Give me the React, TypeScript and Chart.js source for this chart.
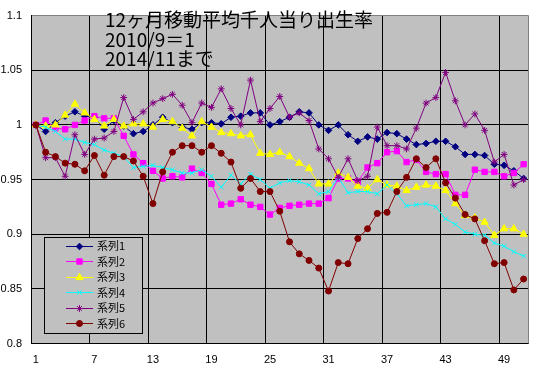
import React, { useEffect, useRef } from 'react';
import { Chart, registerables } from 'chart.js';
import { drawPoint } from 'chart.js/helpers';

Chart.register(...registerables);

const categories = ['1','2','3','4','5','6','7','8','9','10','11','12','13','14','15','16','17','18','19','20','21','22','23','24','25','26','27','28','29','30','31','32','33','34','35','36','37','38','39','40','41','42','43','44','45','46','47','48','49','50','51'];
const xTickLabels = ['1','7','13','19','25','31','37','43','49'];
const yTickValues = [0.8, 0.85, 0.9, 0.95, 1, 1.05, 1.1];
const yTickLabels = ['0.8', '0.85', '0.9', '0.95', '1', '1.05', '1.1'];
const seriesNames = ['系列1', '系列2', '系列3', '系列4', '系列5', '系列6'];
const titleLines = ['12ヶ月移動平均千人当り出生率', '2010/9＝1', '2014/11まで'];

const series1 = [1.000, 0.994, 1.002, 1.008, 1.012, 1.008, 1.007, 0.996, 1.004, 0.999, 0.992, 0.994, 1.000, 1.007, 1.002, 0.998, 0.996, 1.002, 1.002, 1.001, 1.007, 1.008, 1.011, 1.011, 1.000, 1.003, 1.007, 1.012, 1.011, 1.000, 0.995, 1.000, 0.991, 0.985, 0.989, 0.987, 0.993, 0.992, 0.987, 0.982, 0.983, 0.985, 0.985, 0.980, 0.973, 0.973, 0.972, 0.964, 0.963, 0.958, 0.951];
const series2 = [1.000, 1.004, 0.997, 0.996, 1.000, 1.004, 1.008, 1.006, 1.006, 0.990, 0.973, 0.965, 0.958, 0.951, 0.953, 0.952, 0.960, 0.956, 0.946, 0.927, 0.928, 0.932, 0.927, 0.925, 0.918, 0.924, 0.926, 0.927, 0.928, 0.928, 0.933, 0.951, 0.951, 0.948, 0.961, 0.965, 0.975, 0.976, 0.966, 0.968, 0.957, 0.955, 0.955, 0.936, 0.936, 0.959, 0.957, 0.957, 0.953, 0.956, 0.964];
const series3 = [1.000, 0.999, 1.000, 1.009, 1.019, 1.011, 1.005, 0.999, 1.005, 0.999, 1.001, 1.001, 0.998, 1.005, 1.003, 0.997, 0.990, 1.003, 0.998, 0.993, 0.992, 0.990, 0.991, 0.974, 0.973, 0.975, 0.971, 0.965, 0.960, 0.946, 0.946, 0.956, 0.952, 0.944, 0.942, 0.950, 0.945, 0.944, 0.940, 0.943, 0.945, 0.944, 0.940, 0.928, 0.917, 0.915, 0.911, 0.899, 0.905, 0.905, 0.900];
const series4 = [1.000, 0.998, 0.994, 0.987, 0.987, 0.984, 0.982, 0.977, 0.974, 0.971, 0.961, 0.962, 0.963, 0.961, 0.959, 0.956, 0.956, 0.959, 0.953, 0.943, 0.954, 0.946, 0.955, 0.950, 0.942, 0.947, 0.949, 0.948, 0.945, 0.937, 0.939, 0.952, 0.938, 0.939, 0.939, 0.937, 0.945, 0.937, 0.926, 0.927, 0.928, 0.925, 0.914, 0.909, 0.902, 0.900, 0.899, 0.892, 0.889, 0.884, 0.880];
const series5 = [1.000, 0.970, 0.970, 0.953, 0.991, 0.973, 0.987, 0.988, 0.994, 1.025, 1.005, 1.012, 1.020, 1.024, 1.028, 1.018, 1.002, 1.020, 1.016, 1.033, 1.015, 1.000, 1.041, 1.003, 1.015, 1.026, 1.007, 1.011, 1.004, 0.978, 0.969, 0.952, 0.969, 0.949, 0.953, 0.998, 0.981, 0.981, 0.978, 0.997, 1.020, 1.025, 1.048, 1.022, 1.000, 1.010, 0.995, 0.966, 0.973, 0.945, 0.950];
const series6 = [1.000, 0.975, 0.971, 0.965, 0.964, 0.958, 0.972, 0.954, 0.971, 0.971, 0.967, 0.953, 0.928, 0.957, 0.975, 0.981, 0.981, 0.975, 0.981, 0.974, 0.966, 0.942, 0.951, 0.939, 0.939, 0.921, 0.893, 0.882, 0.876, 0.869, 0.848, 0.874, 0.873, 0.896, 0.905, 0.919, 0.920, 0.939, 0.952, 0.969, 0.961, 0.969, 0.947, 0.933, 0.918, 0.914, 0.894, 0.873, 0.874, 0.849, 0.859];

const allSeries = [series1, series2, series3, series4, series5, series6];

const seriesStyles = [
  { color: '#000080', point: 'rectRot', radius: 3.3 },
  { color: '#FF00FF', point: 'rect', radius: 3.8 },
  { color: '#FFFF00', point: 'triangle', radius: 4.2 },
  { color: '#00FFFF', point: 'crossRot', radius: 3.2 },
  { color: '#800080', point: 'star', radius: 3.4 },
  { color: '#800000', point: 'circle', radius: 3 },
];

const PLOT_BG = '#C0C0C0';
const FONT_CJK = '"Noto Sans CJK JP", "Noto Sans CJK SC", sans-serif';
const FONT_TICK = '"Liberation Sans", Arial, sans-serif';

const decorPlugin = {
  id: 'decor',
  beforeDraw(chart: any) {
    const { ctx, chartArea } = chart;
    ctx.save();
    ctx.fillStyle = PLOT_BG;
    ctx.fillRect(chartArea.left, chartArea.top, chartArea.right - chartArea.left, chartArea.bottom - chartArea.top);
    ctx.restore();
  },
  afterDraw(chart: any) {
    const { ctx, chartArea } = chart;
    ctx.save();
    ctx.strokeStyle = '#808080';
    ctx.lineWidth = 1;
    ctx.beginPath();
    const rx = Math.round(chartArea.right) - 0.5;
    ctx.moveTo(rx, chartArea.top);
    ctx.lineTo(rx, chartArea.bottom);
    ctx.stroke();

    ctx.fillStyle = '#000';
    ctx.font = '19px ' + FONT_CJK;
    ctx.textBaseline = 'middle';
    ctx.textAlign = 'left';
    const tx = 105;
    const ty = [20, 39.3, 58.3];
    titleLines.forEach((t, i) => ctx.fillText(t, tx, ty[i]));

    const lx = 44.5, ly = 237.5, lw = 98, lh = 96;
    ctx.fillStyle = PLOT_BG;
    ctx.fillRect(lx, ly, lw, lh);
    ctx.strokeStyle = '#000';
    ctx.lineWidth = 1;
    ctx.strokeRect(lx, ly, lw, lh);

    ctx.font = '11px ' + FONT_CJK;
    seriesNames.forEach((name, i) => {
      const y = 245.7 + i * 15.5;
      const st = seriesStyles[i];
      ctx.strokeStyle = st.color;
      ctx.fillStyle = st.color;
      ctx.lineWidth = 1;
      ctx.beginPath();
      ctx.moveTo(66, Math.round(y) + 0.5);
      ctx.lineTo(93, Math.round(y) + 0.5);
      ctx.stroke();
      drawPoint(ctx, { pointStyle: st.point, radius: st.radius, rotation: 0, borderWidth: 1 } as any, 79.5, Math.round(y) + 0.5);
      ctx.fillStyle = '#000';
      ctx.textBaseline = 'middle';
      ctx.fillText(name, 97, y + 0.5);
    });
    ctx.restore();
  },
};

export default function App() {
  const canvasRef = useRef<HTMLCanvasElement | null>(null);

  useEffect(() => {
    const canvas = canvasRef.current;
    if (!canvas) return;
    const datasets = allSeries.map((data, i) => {
      const st = seriesStyles[i];
      return {
        label: seriesNames[i],
        data,
        borderColor: st.color,
        backgroundColor: st.color,
        borderWidth: 1,
        pointStyle: st.point,
        pointRadius: st.radius,
        pointBorderWidth: 1,
        pointBorderColor: st.color,
        pointBackgroundColor: st.color,
        tension: 0,
        fill: false,
        order: 5 - i,
      };
    });

    const chart = new Chart(canvas, {
      type: 'line',
      data: { labels: categories, datasets },
      options: {
        responsive: false,
        animation: false,
        events: [],
        devicePixelRatio: 1,
        layout: { padding: { top: 11, right: 9.5, left: 0, bottom: 0 } },
        plugins: {
          legend: { display: false },
          tooltip: { enabled: false },
          title: { display: false },
        },
        scales: {
          x: {
            type: 'category',
            offset: true,
            grid: {
              offset: true,
              drawTicks: false,
              lineWidth: 1,
              color: (ctx: any) => (ctx.index % 6 === 0 && ctx.index > 0 && ctx.index < categories.length ? '#000000' : 'rgba(0,0,0,0)'),
            },
            border: { display: true, color: '#000000', width: 1 },
            ticks: {
              autoSkip: false,
              maxRotation: 0,
              minRotation: 0,
              padding: 9.5,
              color: '#000',
              font: { family: FONT_TICK, size: 11 },
              callback: (_v: any, index: number) => (xTickLabels.includes(categories[index]) ? categories[index] : ''),
            },
            afterFit: (scale: any) => { scale.height = 27.5; },
          },
          y: {
            type: 'linear',
            min: 0.8,
            max: 1.1,
            grid: {
              drawTicks: false,
              lineWidth: 1,
              color: (ctx: any) => (ctx.tick && ctx.tick.value === 1.1 ? '#808080' : '#000000'),
            },
            border: { display: true, color: '#000000', width: 1 },
            afterBuildTicks: (scale: any) => { scale.ticks = yTickValues.map((v) => ({ value: v })); },
            ticks: {
              padding: 9,
              color: '#000',
              font: { family: FONT_TICK, size: 11 },
              callback: (v: any) => {
                const idx = yTickValues.findIndex((t) => Math.abs(t - v) < 1e-9);
                return idx >= 0 ? yTickLabels[idx] : '';
              },
            },
            afterFit: (scale: any) => { scale.width = 31; },
          },
        },
      },
      plugins: [decorPlugin],
    } as any);
    return () => chart.destroy();
  }, []);

  return (
    <div style={{ position: 'absolute', left: 0, top: 0, width: 538, height: 371, background: '#fff' }}>
      <canvas ref={canvasRef} width={538} height={371} style={{ width: 538, height: 371, display: 'block' }} />
    </div>
  );
}
